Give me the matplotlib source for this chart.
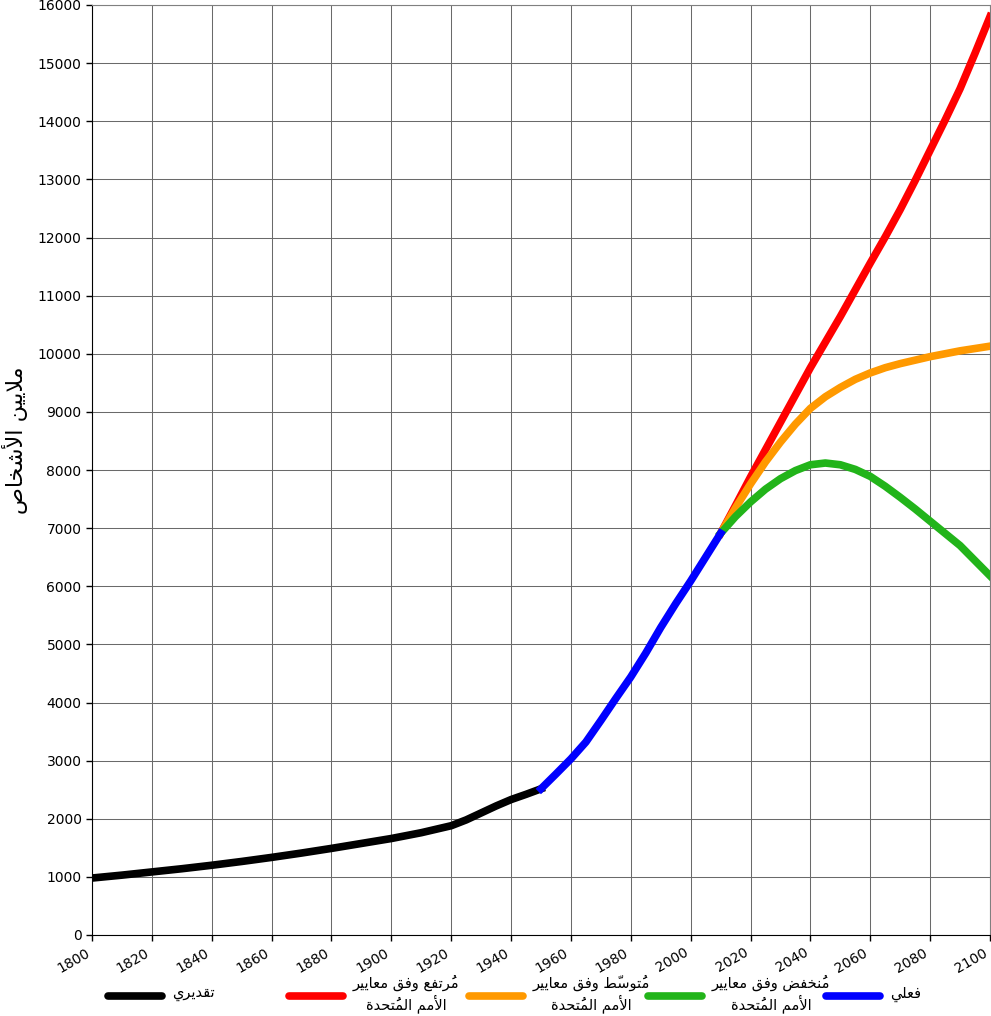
import matplotlib

matplotlib.use("Agg")
import matplotlib.pyplot as plt
from matplotlib.lines import Line2D

# ---- data (millions of people) ----
est_years = [1800, 1810, 1820, 1830, 1840, 1850, 1860, 1870, 1880, 1890, 1900,
             1910, 1920, 1925, 1930, 1935, 1940, 1945, 1950]
est_vals = [980, 1030, 1085, 1140, 1200, 1265, 1335, 1410, 1490, 1575, 1660,
            1760, 1880, 1980, 2100, 2220, 2330, 2420, 2515]

act_years = [1950, 1955, 1960, 1965, 1970, 1975, 1980, 1985, 1990, 1995, 2000, 2005, 2010]
act_vals = [2515, 2770, 3030, 3320, 3690, 4070, 4440, 4850, 5290, 5700, 6090, 6500, 6910]

proj_years = [2010, 2015, 2020, 2025, 2030, 2035, 2040, 2045, 2050, 2055,
              2060, 2065, 2070, 2075, 2080, 2085, 2090, 2095, 2100]
high_vals = [6910, 7390, 7880, 8350, 8820, 9290, 9760, 10200, 10640, 11100,
             11560, 12010, 12480, 12980, 13500, 14020, 14560, 15170, 15800]
med_vals = [6910, 7350, 7760, 8140, 8480, 8790, 9060, 9260, 9420, 9560,
            9670, 9760, 9830, 9890, 9950, 10000, 10050, 10090, 10130]
low_vals = [6910, 7200, 7450, 7670, 7850, 7990, 8090, 8120, 8090, 8010,
            7890, 7720, 7530, 7330, 7120, 6910, 6700, 6440, 6180]

x_ticks = list(range(1800, 2101, 20))
y_ticks = list(range(0, 16001, 1000))

y_label = "ملايين الأشخاص"
lbl_est = "تقديري"
lbl_high = "مُرتفع وفق معايير\nالأمم المُتحدة"
lbl_med = "مُتوسّط وفق معايير\nالأمم المُتحدة"
lbl_low = "مُنخفض وفق معايير\nالأمم المُتحدة"
lbl_act = "فعلي"

# ---- minimal arabic shaping (matplotlib does no shaping / bidi) ----
_SPEC = [("ء", 0xFE80, 1), ("آ", 0xFE81, 2), ("أ", 0xFE83, 2), ("ؤ", 0xFE85, 2),
         ("إ", 0xFE87, 2), ("ئ", 0xFE89, 4), ("ا", 0xFE8D, 2), ("ب", 0xFE8F, 4),
         ("ة", 0xFE93, 2), ("ت", 0xFE95, 4), ("ث", 0xFE99, 4), ("ج", 0xFE9D, 4),
         ("ح", 0xFEA1, 4), ("خ", 0xFEA5, 4), ("د", 0xFEA9, 2), ("ذ", 0xFEAB, 2),
         ("ر", 0xFEAD, 2), ("ز", 0xFEAF, 2), ("س", 0xFEB1, 4), ("ش", 0xFEB5, 4),
         ("ص", 0xFEB9, 4), ("ض", 0xFEBD, 4), ("ط", 0xFEC1, 4), ("ظ", 0xFEC5, 4),
         ("ع", 0xFEC9, 4), ("غ", 0xFECD, 4), ("ف", 0xFED1, 4), ("ق", 0xFED5, 4),
         ("ك", 0xFED9, 4), ("ل", 0xFEDD, 4), ("م", 0xFEE1, 4), ("ن", 0xFEE5, 4),
         ("ه", 0xFEE9, 4), ("و", 0xFEED, 2), ("ى", 0xFEEF, 2), ("ي", 0xFEF1, 4)]
FORMS = {c: (s, n) for c, s, n in _SPEC}
LAMALEF = {"آ": 0xFEF5, "أ": 0xFEF7, "إ": 0xFEF9, "ا": 0xFEFB}
MARKS = set(chr(c) for c in range(0x064B, 0x0653))


def _shape_line(s):
    clusters = []
    for ch in s:
        if ch in MARKS and clusters:
            clusters[-1][1] += ch
        else:
            clusters.append([ch, ""])
    merged, i = [], 0
    while i < len(clusters):
        b, m = clusters[i]
        if b == "ل" and i + 1 < len(clusters) and clusters[i + 1][0] in LAMALEF:
            merged.append(["LA" + clusters[i + 1][0], m + clusters[i + 1][1]])
            i += 2
        else:
            merged.append([b, m])
            i += 1

    def dual(b):
        return b in FORMS and FORMS[b][1] == 4

    def letter(b):
        return (b in FORMS and b != "ء") or b.startswith("LA")

    out = []
    for k, (b, m) in enumerate(merged):
        prev = merged[k - 1][0] if k > 0 else None
        nxt = merged[k + 1][0] if k + 1 < len(merged) else None
        jp = prev is not None and dual(prev) and letter(b)
        jn = dual(b) and nxt is not None and letter(nxt)
        if b.startswith("LA"):
            g = chr(LAMALEF[b[2]] + (1 if jp else 0))
        elif b in FORMS:
            start, n = FORMS[b]
            if n == 4:
                idx = 3 if (jp and jn) else 1 if jp else 2 if jn else 0
            elif n == 2:
                idx = 1 if jp else 0
            else:
                idx = 0
            g = chr(start + idx)
        else:
            g = b
        # zero-width marks draw to the right of the pen, so put them before the base
        out.append(m + g)
    return "".join(reversed(out))


def ar(text):
    return "\n".join(_shape_line(l) for l in text.split("\n"))


# ---- plot ----
fig = plt.figure(figsize=(9.91, 10.16), dpi=100)
ax = fig.add_axes([92 / 991, 81 / 1016, 898 / 991, 930 / 1016])

lw = 5.5
ax.plot(est_years, est_vals, color="#000000", lw=lw, zorder=3)
ax.plot(proj_years, high_vals, color="#ff0000", lw=lw, zorder=3)
ax.plot(proj_years, med_vals, color="#ff9900", lw=lw, zorder=3)
ax.plot(proj_years, low_vals, color="#22b41a", lw=lw, zorder=3)
ax.plot(act_years, act_vals, color="#0000ff", lw=lw, zorder=4)

ax.set_xlim(1800, 2100)
ax.set_ylim(0, 16000)
ax.set_xticks(x_ticks)
ax.set_yticks(y_ticks)
ax.set_xticklabels([str(t) for t in x_ticks], rotation=30, ha="right", fontsize=10)
ax.set_yticklabels([str(t) for t in y_ticks], fontsize=10)
ax.tick_params(direction="out", length=4, width=1)
ax.grid(True, color="#6a6a6a", lw=0.75)
ax.set_axisbelow(True)
for side in ("top", "right"):
    ax.spines[side].set_color("#808080")
    ax.spines[side].set_linewidth(0.8)
ax.set_ylabel(ar(y_label), fontsize=16)
ax.yaxis.set_label_coords(-0.071, 0.532)

# legend, laid out by hand along the bottom
legend_items = [("#000000", lbl_est, 108), ("#ff0000", lbl_high, 289),
                ("#ff9900", lbl_med, 469), ("#22b41a", lbl_low, 648),
                ("#0000ff", lbl_act, 826)]
W, H = 991, 1016
y_leg = 1 - 996 / H
for color, label, x0 in legend_items:
    fig.add_artist(Line2D([x0 / W, (x0 + 54) / W], [y_leg, y_leg], color=color,
                          lw=lw, solid_capstyle="round", transform=fig.transFigure))
    fig.text((x0 + 64) / W, y_leg + 0.002, ar(label), fontsize=10.5, ha="left",
             va="center", multialignment="center")

fig.savefig("out.png", dpi=100)
